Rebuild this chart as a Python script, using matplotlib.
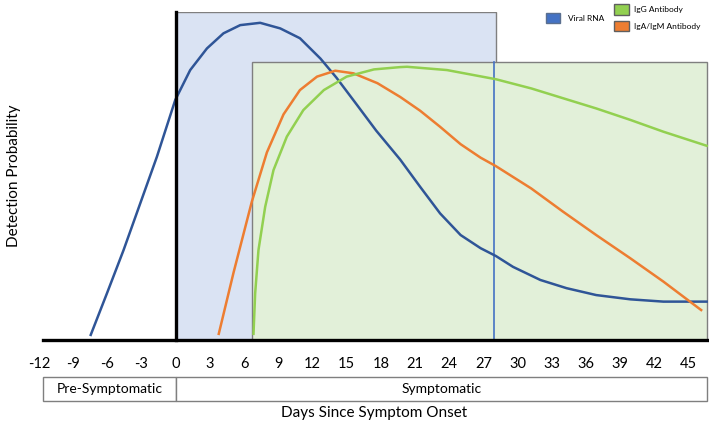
import numpy as np
import matplotlib.pyplot as plt
from matplotlib.patches import Rectangle, Patch

plt.rcParams['font.family'] = ['Lato', 'DejaVu Sans']

# ---------------------- DATA ----------------------

days_ticks = [-12, -9, -6, -3, 0, 3, 6, 9, 12, 15, 18, 21, 24, 27, 30, 33, 36, 39, 42, 45]

rna_day = [-7.5, -6.04, -4.58, -3.11, -1.65, -0.04, 1.27, 2.74, 4.19, 5.66, 7.41, 9.17,
           10.9, 12.7, 14.1, 15.9, 17.6, 19.7, 21.45, 23.2, 25.0, 26.75, 28.1, 29.6,
           32.0, 34.3, 36.9, 39.9, 42.8, 46.7]
rna_prob = [0.012, 0.142, 0.274, 0.417, 0.559, 0.732, 0.823, 0.889, 0.935, 0.960, 0.967, 0.950,
            0.920, 0.858, 0.800, 0.717, 0.638, 0.550, 0.467, 0.386, 0.320, 0.280, 0.256, 0.223,
            0.183, 0.158, 0.137, 0.124, 0.117, 0.117]

igam_day = [3.75, 5.07, 6.68, 8.0, 9.46, 10.9, 12.4, 14.0, 15.6, 17.7, 19.7, 21.45,
            23.2, 25.0, 26.75, 28.1, 31.2, 34.0, 36.9, 39.9, 42.8, 46.2]
igam_prob = [0.015, 0.205, 0.422, 0.572, 0.688, 0.762, 0.803, 0.821, 0.813, 0.783, 0.741, 0.699,
             0.650, 0.597, 0.556, 0.530, 0.462, 0.391, 0.320, 0.249, 0.178, 0.089]

igg_day = [6.82, 6.97, 7.26, 7.85, 8.58, 9.75, 11.2, 13.0, 15.0, 17.4, 19.7, 20.3,
           23.8, 28.1, 31.2, 34.0, 36.9, 39.9, 42.8, 46.7]
igg_prob = [0.015, 0.142, 0.274, 0.406, 0.518, 0.620, 0.701, 0.762, 0.803, 0.825, 0.832, 0.833,
            0.823, 0.795, 0.767, 0.737, 0.706, 0.671, 0.635, 0.591]

# detection windows (days)
rna_window = (0.0, 28.1)
antibody_window = (6.71, 46.6)
antibody_top = 0.848
rna_cutoff = 27.95

# ---------------------- PLOT ----------------------

fig = plt.figure(figsize=(7.09, 4.23), dpi=100)
ax = fig.add_axes([39 / 709, 83 / 423, 670 / 709, 328 / 423])
ax.set_xlim(-12, 46.8)
ax.set_ylim(0, 1)

ax.add_patch(Rectangle((rna_window[0], 0), rna_window[1] - rna_window[0], 1.0,
                       facecolor='#dae3f3', edgecolor='#7f7f7f', lw=1.0, zorder=1))
ax.add_patch(Rectangle((antibody_window[0], 0), antibody_window[1] - antibody_window[0], antibody_top,
                       facecolor='#e2f0d9', edgecolor='#7f7f7f', lw=1.0, zorder=2))
ax.plot([rna_cutoff, rna_cutoff], [0, antibody_top], color='#4472c4', lw=1.2, zorder=3)

line_kw = dict(lw=1.8, zorder=4, solid_capstyle='butt', solid_joinstyle='round')
ax.plot(rna_day, rna_prob, color='#2f5597', **line_kw)
ax.plot(igam_day, igam_prob, color='#ed7d31', **line_kw)
ax.plot(igg_day, igg_prob, color='#92d050', **line_kw)

# thick black axes
ax.plot([-11.65, 46.8], [0, 0], color='black', lw=2.4, zorder=5, clip_on=False)
ax.plot([0, 0], [0, 1], color='black', lw=2.4, zorder=5, clip_on=False)

for s in ax.spines.values():
    s.set_visible(False)
ax.set_yticks([])
ax.set_xticks(days_ticks)
ax.set_xticklabels([str(d) for d in days_ticks])
ax.tick_params(axis='x', length=0, pad=12, labelsize=10.5)

# phase band under the ticks
trans = ax.get_xaxis_transform()
band_y0, band_y1 = -0.186, -0.1128
ax.add_patch(Rectangle((-11.65, band_y0), 11.65, band_y1 - band_y0, transform=trans,
                       facecolor='white', edgecolor='#7f7f7f', lw=1.0, clip_on=False))
ax.add_patch(Rectangle((0, band_y0), 46.6, band_y1 - band_y0, transform=trans,
                       facecolor='white', edgecolor='#7f7f7f', lw=1.0, clip_on=False))
ax.text(-11.65 / 2, (band_y0 + band_y1) / 2, 'Pre-Symptomatic', transform=trans,
        ha='center', va='center', fontsize=10)
ax.text(46.6 / 2, (band_y0 + band_y1) / 2, 'Symptomatic', transform=trans,
        ha='center', va='center', fontsize=10)

fig.text(374 / 709, 1 - 413 / 423, 'Days Since Symptom Onset', ha='center', va='center', fontsize=11)
fig.text(14 / 709, 1 - 176 / 423, 'Detection Probability', ha='center', va='center',
         rotation=90, fontsize=11)

# legend
fig.legend(handles=[Patch(facecolor='#4472c4', edgecolor='#5a6f8f', label='Viral RNA')],
           loc='center left', bbox_to_anchor=(545.7 / 709, 1 - 17.8 / 423),
           frameon=False, fontsize=6, borderpad=0, borderaxespad=0,
           handlelength=1.75, handleheight=1.5, handletextpad=0.9)
fig.legend(handles=[Patch(facecolor='#92d050', edgecolor='#5f5f5f', label='IgG Antibody'),
                    Patch(facecolor='#ed7d31', edgecolor='#5f5f5f', label='IgA/IgM Antibody')],
           loc='center left', bbox_to_anchor=(614 / 709, 1 - 18 / 423),
           frameon=False, fontsize=6, borderpad=0, borderaxespad=0,
           handlelength=1.75, handleheight=1.5, handletextpad=0.6, labelspacing=0.8)

fig.savefig('out.png', dpi=100)
